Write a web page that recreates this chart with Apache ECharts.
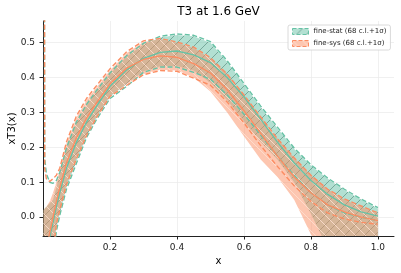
<!DOCTYPE html>
<html><head><meta charset="utf-8">
<script src="https://cdn.jsdelivr.net/npm/echarts@6/dist/echarts.min.js"></script>
<style>html,body{margin:0;padding:0;background:#fff}#c{width:401px;height:273px}</style>
</head><body><div id="c"></div>
<script>
const xs = [0.001,0.005,0.01,0.02,0.03,0.04,0.05,0.07,0.1,0.13,0.16,0.2,0.25,0.3,0.35,0.4,0.45,0.5,0.55,0.6,0.65,0.7,0.75,0.8,0.85,0.9,0.95,1.0];
const statCentral = [-0.13,-0.12,-0.1,-0.058,-0.015,0.03,0.07,0.14,0.215,0.272,0.318,0.375,0.422,0.455,0.472,0.476,0.465,0.443,0.40,0.345,0.28,0.215,0.155,0.105,0.065,0.035,0.015,0.003];
const statUp68 = [0.02,0.025,0.03,0.04,0.05,0.085,0.125,0.195,0.27,0.32,0.36,0.41,0.46,0.495,0.515,0.522,0.518,0.50,0.445,0.38,0.315,0.255,0.195,0.148,0.11,0.078,0.05,0.025];
const statLo68 = [-0.3,-0.3,-0.25,-0.2,-0.1,-0.03,0.01,0.085,0.16,0.232,0.285,0.345,0.382,0.418,0.432,0.433,0.42,0.385,0.335,0.275,0.215,0.165,0.1,0.01,-0.09,-0.1,-0.1,-0.1];
const statUp1s = [3.0,0.17,0.125,0.1,0.097,0.105,0.128,0.198,0.273,0.323,0.363,0.413,0.463,0.498,0.518,0.525,0.521,0.503,0.448,0.383,0.318,0.258,0.198,0.15,0.112,0.08,0.052,0.027];
const statLo1s = [-3,-1,-0.5,-0.25,-0.12,-0.04,0.005,0.08,0.155,0.228,0.28,0.34,0.375,0.415,0.43,0.43,0.415,0.395,0.35,0.295,0.235,0.175,0.12,0.07,0.035,0.012,0.0,-0.01];
const sysCentral = [-0.12,-0.11,-0.09,-0.045,0.0,0.045,0.085,0.155,0.228,0.284,0.328,0.382,0.427,0.452,0.462,0.458,0.44,0.413,0.365,0.305,0.24,0.175,0.115,0.07,0.035,0.015,0.0,-0.01];
const sysUp68 = [0.02,0.025,0.03,0.045,0.07,0.1,0.135,0.21,0.285,0.335,0.372,0.42,0.47,0.502,0.51,0.5,0.485,0.455,0.41,0.35,0.287,0.225,0.17,0.12,0.08,0.05,0.03,0.01];
const sysLo68 = [-0.3,-0.3,-0.25,-0.2,-0.1,-0.02,0.02,0.095,0.17,0.238,0.29,0.348,0.382,0.41,0.422,0.42,0.4,0.36,0.3,0.232,0.165,0.115,0.05,-0.05,-0.1,-0.1,-0.1,-0.1];
const sysUp1s = [5.0,0.14,0.11,0.102,0.11,0.12,0.14,0.215,0.29,0.34,0.377,0.425,0.474,0.505,0.512,0.502,0.487,0.457,0.41,0.35,0.287,0.225,0.17,0.12,0.08,0.052,0.032,0.012];
const sysLo1s = [-5,-1,-0.5,-0.25,-0.1,-0.02,0.02,0.093,0.168,0.234,0.286,0.346,0.378,0.408,0.42,0.418,0.398,0.378,0.33,0.27,0.205,0.145,0.09,0.045,0.012,-0.005,-0.015,-0.02];
const xTicks = [0.2,0.4,0.6,0.8,1.0];
const yTicks = [0.0,0.1,0.2,0.3,0.4,0.5];
const statName = 'fine-stat (68 c.l.+1σ)';
const sysName = 'fine-sys (68 c.l.+1σ)';

const GREEN = '#66c2a5', ORANGE = '#fc8d62';
function hatch(fill, stroke, dir) {
  const s = 10;
  const c = document.createElement('canvas'); c.width = s; c.height = s;
  const ctx = c.getContext('2d');
  ctx.fillStyle = fill; ctx.fillRect(0, 0, s, s);
  ctx.strokeStyle = stroke; ctx.lineWidth = 0.9;
  ctx.beginPath();
  if (dir === '/') {
    ctx.moveTo(0, s); ctx.lineTo(s, 0);
    ctx.moveTo(-2, 2); ctx.lineTo(2, -2);
    ctx.moveTo(s - 2, s + 2); ctx.lineTo(s + 2, s - 2);
  } else {
    ctx.moveTo(0, 0); ctx.lineTo(s, s);
    ctx.moveTo(-2, s - 2); ctx.lineTo(2, s + 2);
    ctx.moveTo(s - 2, -2); ctx.lineTo(s + 2, 2);
  }
  ctx.stroke();
  return c;
}
const greenPat = { image: hatch('rgba(102,194,165,0.5)', 'rgba(60,110,95,0.55)', '/'), repeat: 'repeat' };
const orangePat = { image: hatch('rgba(252,141,98,0.5)', 'rgba(255,225,210,0.9)', '\\'), repeat: 'repeat' };

const pairs = ys => xs.map((x, i) => [x, ys[i]]);

function band(name, up, lo, pat, color) {
  return {
    type: 'custom', name: name, coordinateSystem: 'cartesian2d', clip: true, silent: true, z: 2,
    itemStyle: { color: color },
    data: [[0.5, 0.25]],
    renderItem: (params, api) => {
      const pts = [];
      for (let i = 0; i < xs.length; i++) pts.push(api.coord([xs[i], up[i]]));
      for (let i = xs.length - 1; i >= 0; i--) pts.push(api.coord([xs[i], lo[i]]));
      return { type: 'polygon', shape: { points: pts }, style: { fill: pat, stroke: null } };
    }
  };
}
function ln(id, ys, color, dashed) {
  return { type: 'line', name: id, data: pairs(ys), showSymbol: false, smooth: false,
    lineStyle: { color: color, width: 1.4, type: dashed ? [5, 2.5] : 'solid' }, silent: true, z: 3 };
}

const chart = echarts.init(document.getElementById('c'), null, { renderer: 'canvas' });
chart.setOption({
  animation: false,
  textStyle: { fontFamily: 'DejaVu Sans' },
  grid: { left: 43, right: 7, top: 21, bottom: 37, outerBoundsMode: 'none', containLabel: false },
  graphic: [{ type: 'text', x: 218.5, y: 12, style: { text: 'T3 at 1.6 GeV', fontSize: 12, fontFamily: 'DejaVu Sans', fill: '#000', align: 'center', verticalAlign: 'middle' } }],
  legend: {
    orient: 'vertical', left: 288, top: 25, padding: [3, 4, 3, 4], itemGap: 5,
    itemWidth: 16, itemHeight: 6, borderColor: '#d0d0d0', borderWidth: 0.8, borderRadius: 2,
    backgroundColor: 'rgba(255,255,255,0.85)',
    textStyle: { fontSize: 7, color: '#222', fontFamily: 'DejaVu Sans' },
    data: [
      { name: statName, icon: 'rect', itemStyle: { color: greenPat, borderColor: GREEN, borderWidth: 1, borderType: 'dashed' } },
      { name: sysName, icon: 'rect', itemStyle: { color: orangePat, borderColor: ORANGE, borderWidth: 1, borderType: 'dashed' } }
    ],
    selectedMode: false
  },
  xAxis: {
    type: 'value', min: 0, max: 1.048, name: 'x', nameLocation: 'middle', nameGap: 20, nameMoveOverlap: false,
    nameTextStyle: { fontSize: 10, color: '#000' },
    axisLine: { show: true, onZero: false, lineStyle: { color: '#222', width: 1 } },
    axisTick: { show: true, length: 3.5, customValues: xTicks, lineStyle: { color: '#222' } },
    axisLabel: { customValues: xTicks, fontSize: 9, color: '#222', margin: 7, formatter: v => v.toFixed(1) },
    splitLine: { show: true, lineStyle: { color: '#ececec', width: 0.8 } }
  },
  yAxis: {
    type: 'value', min: -0.054, max: 0.562, name: 'xT3(x)', nameLocation: 'middle', nameGap: 26, nameMoveOverlap: false,
    nameTextStyle: { fontSize: 10, color: '#000' },
    axisLine: { show: true, lineStyle: { color: '#222', width: 1 } },
    axisTick: { show: true, length: 3.5, customValues: yTicks, lineStyle: { color: '#222' } },
    axisLabel: { customValues: yTicks, fontSize: 9, color: '#222', margin: 8, formatter: v => v.toFixed(1) },
    splitLine: { show: true, lineStyle: { color: '#ececec', width: 0.8 } }
  },
  series: [
    band(statName, statUp68, statLo68, greenPat, GREEN),
    band(sysName, sysUp68, sysLo68, orangePat, ORANGE),
    ln('g_up1s', statUp1s, GREEN, true),
    ln('g_lo1s', statLo1s, GREEN, true),
    ln('g_c', statCentral, GREEN, false),
    ln('o_up1s', sysUp1s, ORANGE, true),
    ln('o_lo1s', sysLo1s, ORANGE, true),
    ln('o_c', sysCentral, ORANGE, false)
  ]
});
</script></body></html>
